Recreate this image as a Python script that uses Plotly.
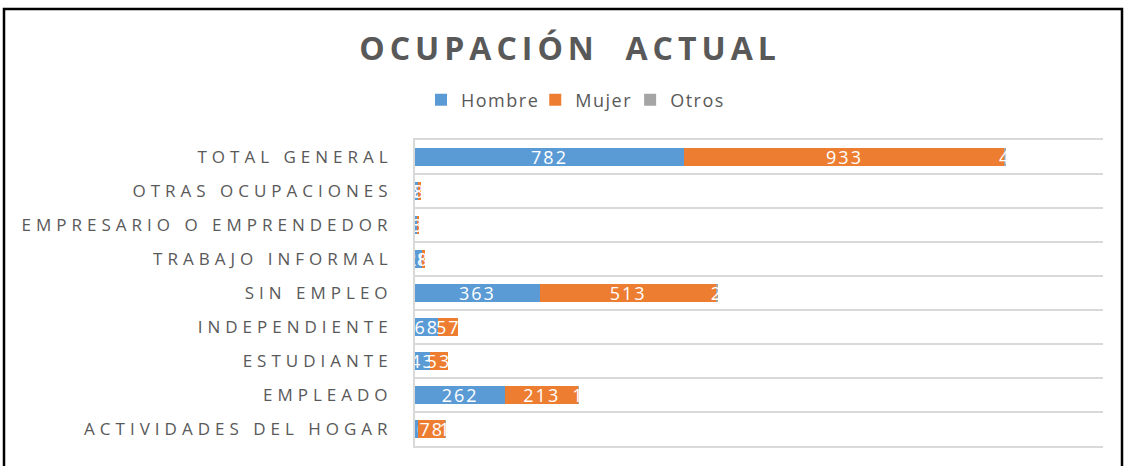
import plotly.graph_objects as go

# Categories, listed bottom to top as drawn
categories = [
    "ACTIVIDADES DEL HOGAR",
    "EMPLEADO",
    "ESTUDIANTE",
    "INDEPENDIENTE",
    "SIN EMPLEO",
    "TRABAJO INFORMAL",
    "EMPRESARIO O EMPRENDEDOR",
    "OTRAS OCUPACIONES",
    "TOTAL GENERAL",
]
hombre = [10, 262, 43, 68, 363, 20, 6, 9, 782]
mujer = [78, 213, 53, 57, 513, 8, 3, 8, 933]
otros = [1, 1, 0, 0, 2, 0, 0, 0, 4]

series_names = ["Hombre", "Mujer", "Otros"]
series_colors = ["#5B9BD5", "#ED7D31", "#A5A5A5"]

FONT = "Open Sans"
GRAY_TEXT = "#595959"
GRID = "#D9D9D9"

fig = go.Figure()
for name, vals, color in zip(series_names, [hombre, mujer, otros], series_colors):
    fig.add_trace(go.Bar(
        name=name,
        y=categories,
        x=vals,
        orientation="h",
        marker=dict(color=color, line=dict(width=0)),
        text=[str(v) if v else "" for v in vals],
        textposition="inside",
        insidetextanchor="middle",
        textangle=0,
        constraintext="none",
        textfont=dict(family=FONT, size=18, color="white"),
        hoverinfo="x+y+name",
    ))

W, H = 1126, 466
L, R, T, B = 415, 23, 140, 20

fig.update_layout(
    width=W, height=H,
    barmode="stack",
    bargap=0.47,
    paper_bgcolor="white",
    plot_bgcolor="white",
    margin=dict(l=L, r=R, t=T, b=B, pad=0),
    font=dict(family=FONT, color=GRAY_TEXT),
    uniformtext=dict(minsize=18, mode="show"),
    title=dict(
        text="<b>OCUPACIÓN  ACTUAL</b>",
        x=570 / W, xref="container", xanchor="center",
        y=1 - 49 / H, yref="container", yanchor="middle",
        font=dict(family=FONT, size=32, color=GRAY_TEXT),
    ),
    legend=dict(
        orientation="h",
        x=572 / W, xref="container", xanchor="center",
        y=1 - 100 / H, yref="container", yanchor="middle",
        font=dict(family=FONT, size=18, color=GRAY_TEXT),
        itemwidth=30,
        traceorder="normal",
    ),
    xaxis=dict(
        range=[0, 2000],
        showticklabels=False,
        showgrid=False,
        zeroline=False,
        showline=True,
        mirror=True,
        linecolor=GRID,
        linewidth=2,
        ticks="",
        fixedrange=True,
    ),
    yaxis=dict(
        categoryorder="array",
        categoryarray=categories,
        tickson="boundaries",
        showgrid=True,
        gridcolor=GRID,
        gridwidth=2,
        showline=True,
        linecolor=GRID,
        linewidth=2,
        mirror=False,
        ticks="",
        ticklabelstandoff=17,
        tickfont=dict(family=FONT, size=17, color=GRAY_TEXT),
        fixedrange=True,
    ),
    showlegend=True,
)

# Outer chart frame (black border, bottom edge falls below the picture)
pw = W - L - R
ph = H - T - B
fig.add_shape(
    type="rect", xref="paper", yref="paper",
    x0=(4 - L) / pw, x1=(1122 - L) / pw,
    y0=(H - B - 480) / ph, y1=(H - B - 9) / ph,
    line=dict(color="black", width=2.5),
    fillcolor="rgba(0,0,0,0)",
    layer="above",
)

post = """
document.body.style.margin = '0';
document.body.style.padding = '0';
var gd = document.getElementById('{plot_id}');
gd.querySelectorAll('.ytick text').forEach(function(t){ t.style.letterSpacing = '5px'; });
gd.querySelectorAll('.gtitle').forEach(function(t){ t.style.letterSpacing = '5px'; });
gd.querySelectorAll('.bartext').forEach(function(t){ t.style.letterSpacing = '2px'; });
gd.querySelectorAll('.legendtext').forEach(function(t){ t.style.letterSpacing = '1.5px'; });
"""

fig.write_html("out.html", post_script=post, config={"displayModeBar": False})
